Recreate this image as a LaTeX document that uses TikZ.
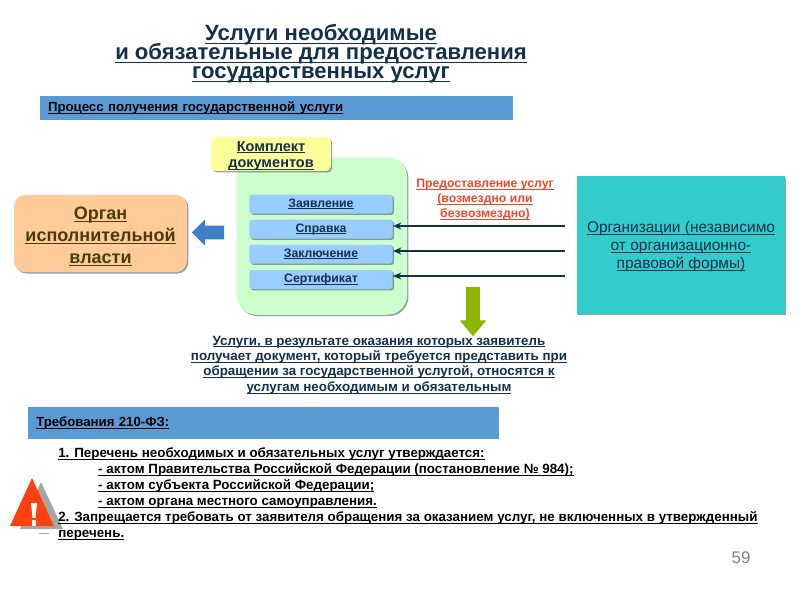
\documentclass[tikz,border=0pt]{standalone}
\usepackage{fontspec}
\setmainfont{Liberation Sans}
\definecolor{TitleInk}{HTML}{12304E}
\definecolor{BarBlue}{HTML}{5B9BD5}
\definecolor{PackGreen}{HTML}{CCFFCC}
\definecolor{PackYellow}{HTML}{FFFF99}
\definecolor{DocBlue}{HTML}{99CCFF}
\definecolor{OrganOrange}{HTML}{FFCC99}
\definecolor{OrgTeal}{HTML}{33CCCC}
\definecolor{ArrowBlue}{HTML}{3D7FC4}
\definecolor{ArrowGreen}{HTML}{8DB600}
\definecolor{WarnRed}{HTML}{FF4010}
\definecolor{SupplyRed}{HTML}{F4472A}
\definecolor{OrganInk}{HTML}{4A3C08}
\usetikzlibrary{arrows.meta,shadows,shapes.arrows}
\lineskiplimit=-20pt
\newcommand{\lined}[1]{\leavevmode\setbox0=\hbox{#1}\rlap{\vrule width\wd0 height -0.09em depth 0.15em}\box0 }
\tikzset{
  softshadow/.style={drop shadow={shadow xshift=1pt,shadow yshift=-1pt,opacity=.45,fill=TitleInk}},
  barbox/.style={fill=BarBlue,minimum height=#1*0.71pt,inner sep=0pt,anchor=west,text=black},
  docbox/.style={fill=DocBlue,rounded corners=2pt,softshadow,minimum width=102pt,minimum height=13.5pt,inner sep=0pt,
    text=TitleInk,font=\bfseries\fontsize{8.7}{11}\selectfont},
  supply/.style={draw=TitleInk,line width=1.1pt,-{Stealth[length=6pt,width=5pt,fill=DocBlue]}}
}
\begin{document}
\begin{tikzpicture}[x=0.025cm,y=-0.025cm]
    \useasboundingbox (0,0) rectangle (800,600);
    \fill[white] (0,0) rectangle (800,600);
    \node[
      align=center,
      text=TitleInk,
      font=\bfseries\fontsize{15.7}{13.5}\selectfont
    ] (title) at (321,54) {\lined{Услуги необходимые}\\\lined{и обязательные для предоставления}\\\lined{государственных услуг}};
    % blue bars
    \node[barbox=24,minimum width=336pt,text width=325pt,align=left,font=\bfseries\fontsize{9.4}{11}\selectfont] (processbar) at (40,108) {\lined{Процесс получения государственной услуги}};
    \node[barbox=32,minimum width=335pt,text width=323.6pt,align=left,font=\bfseries\fontsize{9.4}{11}\selectfont] (lawbar) at (28,423) {\lined{Требования 210-ФЗ:}};
    % documents
    \node[fill=PackGreen,rounded corners=14pt,softshadow,minimum width=121pt,minimum height=112pt,inner sep=0pt] (pack) at (322,236) {};
    \node[
      fill=PackYellow,
      rounded corners=3pt,
      softshadow,
      minimum width=85pt,
      minimum height=22pt,
      inner sep=0pt,
      align=center,
      text=TitleInk,
      font=\bfseries\fontsize{10.3}{12}\selectfont
    ] (packlabel) at (271,154) {\rule{0pt}{10pt}\lined{Комплект}\\\lined{документов}};
    \node[docbox] (zayavlenie) at (321,204) {\lined{Заявление}};
    \node[docbox] (spravka) at (321,229) {\lined{Справка}};
    \node[docbox] (zakl) at (321,254) {\lined{Заключение}};
    \node[docbox] (sert) at (321,279.5) {\lined{Сертификат}};
    % left and right boxes
    \node[
      fill=OrganOrange,
      rounded corners=8pt,
      softshadow,
      minimum width=123pt,
      minimum height=55pt,
      inner sep=0pt,
      align=center,
      text=OrganInk,
      font=\bfseries\fontsize{12.8}{15.6}\selectfont
    ] (organ) at (100.5,233.5) {\rule{0pt}{13pt}\lined{Орган}\\\lined{исполнительной}\\\lined{власти}};
    \node[
      fill=OrgTeal,
      softshadow,
      minimum width=148pt,
      minimum height=98pt,
      inner sep=0pt,
      align=center,
      text=TitleInk,
      font=\fontsize{11}{12.8}\selectfont
    ] (orgs) at (681,245) {\rule{0pt}{10.2pt}\lined{Организации (независимо}\\\lined{от организационно-}\\\lined{правовой формы)}};
    \node[align=center,text=SupplyRed,font=\bfseries\fontsize{8.7}{10.7}\selectfont] (supplylabel) at (485,200) {\lined{Предоставление услуг}\\\lined{(возмездно или}\\\lined{безвозмездно)}};
    % arrows
    \coordinate (from2) at (565,226);
    \coordinate (from3) at (565,251);
    \coordinate (from4) at (565,276);
    \draw[supply] (from2) -- (from2 -| spravka.east);
    \draw[supply] (from3) -- (from3 -| zakl.east);
    \draw[supply] (from4) -- (from4 -| sert.east);
    \node[
      single arrow,
      fill=ArrowBlue,
      shape border rotate=180,
      minimum height=23pt,
      single arrow head extend=4.3pt,
      single arrow tip angle=90,
      inner sep=4.7pt
    ] (toorgan) at (211.5,232.5) {};
    \node[
      single arrow,
      fill=ArrowGreen,
      shape border rotate=270,
      minimum height=35pt,
      single arrow head extend=4.5pt,
      single arrow tip angle=80,
      inner sep=4.7pt
    ] (toresult) at (473,307.5) {};
    \node[align=center,text=TitleInk,font=\bfseries\fontsize{9.5}{11}\selectfont] (result) at (379,365) {\lined{Услуги, в результате оказания которых заявитель}\\\lined{получает документ, который требуется представить при}\\\lined{обращении за государственной услугой, относятся к}\\\lined{услугам необходимым и обязательным}};
    % warning sign
    \fill[gray!70] (41,482) -- (20,529) -- (63,529) -- cycle;
    \fill[WarnRed] (32,478) -- (10,526) -- (54,526) -- cycle;
    \fill[white] (31,503) -- (37,503) -- (35.5,518) -- (32.5,518) -- cycle;
    \fill[white] (32,520) rectangle (36,526);
    \fill[gray!70] (39,533) rectangle (49,534);
    % law text
    \node[
      anchor=north west,
      align=left,
      inner sep=0pt,
      text=black,
      font=\bfseries\fontsize{9.5}{11.4}\selectfont
    ] (lawtext) at (58,447.5) {\lined{1. Перечень необходимых и обязательных услуг утверждается:}\\
      \hspace*{28.4pt}\lined{- актом Правительства Российской Федерации (постановление № 984);}\\
      \hspace*{28.4pt}\lined{- актом субъекта Российской Федерации;}\\
      \hspace*{28.4pt}\lined{- актом органа местного самоуправления.}\\
      \lined{2. Запрещается требовать от заявителя обращения за оказанием услуг, не включенных в утвержденный}\\
      \lined{перечень.}};
    \node[text=gray,font=\fontsize{12}{14}\selectfont] (pagenum) at (741,558) {59};
  \end{tikzpicture}
\end{document}
